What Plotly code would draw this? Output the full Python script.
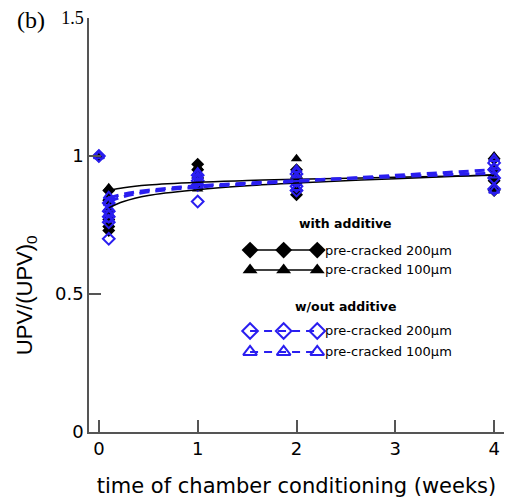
import plotly.graph_objects as go

# Normalised UPV measurements per series (time in weeks, replicate values)
t_bd = [0, 0.1, 0.1, 0.1, 0.1, 0.1, 0.1, 1, 1, 1, 1, 2, 2, 2, 2, 4, 4, 4, 4]
v_bd = [1.0, 0.875, 0.84, 0.80, 0.77, 0.745, 0.73, 0.97, 0.95, 0.92, 0.895,
        0.95, 0.92, 0.875, 0.86, 0.99, 0.95, 0.91, 0.875]

t_bt = [0, 0.1, 0.1, 0.1, 0.1, 0.1, 1, 1, 1, 1, 2, 2, 2, 2, 4, 4, 4, 4]
v_bt = [1.0, 0.885, 0.85, 0.81, 0.775, 0.75, 0.96, 0.93, 0.90, 0.88,
        0.99, 0.935, 0.90, 0.88, 1.0, 0.96, 0.92, 0.885]

t_wd = [0, 0.1, 0.1, 0.1, 0.1, 0.1, 1, 1, 1, 1, 2, 2, 2, 2, 4, 4, 4, 4]
v_wd = [1.0, 0.83, 0.80, 0.78, 0.76, 0.70, 0.93, 0.91, 0.895, 0.835,
        0.935, 0.91, 0.89, 0.875, 0.975, 0.95, 0.92, 0.88]

t_wt = [0, 0.1, 0.1, 0.1, 0.1, 0.1, 1, 1, 1, 1, 2, 2, 2, 2, 4, 4, 4, 4]
v_wt = [1.0, 0.855, 0.83, 0.81, 0.79, 0.77, 0.94, 0.925, 0.905, 0.89,
        0.95, 0.925, 0.905, 0.885, 0.99, 0.96, 0.93, 0.875]

# Trend curves for each series
t_fit = [0.1, 0.25, 0.5, 1, 1.5, 2, 3, 4]
fit_bd = [0.875, 0.885, 0.895, 0.905, 0.911, 0.916, 0.923, 0.93]
fit_bt = [0.812, 0.835, 0.857, 0.878, 0.892, 0.902, 0.918, 0.932]
fit_wd = [0.835, 0.853, 0.870, 0.887, 0.898, 0.908, 0.93, 0.95]
fit_wt = [0.848, 0.862, 0.876, 0.892, 0.902, 0.911, 0.925, 0.938]

# Key: sample positions and labels
key_x = [1.53, 1.87, 2.21]
key_y = [0.659, 0.587, 0.366, 0.290]
key_labels = ["pre-cracked 200\u03bcm", "pre-cracked 100\u03bcm",
              "pre-cracked 200\u03bcm", "pre-cracked 100\u03bcm"]
key_headers = ["with additive", "w/out additive"]
key_header_y = [0.757, 0.453]

x_ticks = [0, 1, 2, 3, 4]
y_ticks = [0, 0.5, 1, 1.5]

BLACK = "#000000"
BLUE = "#2a1ef0"
FONT = "DejaVu Sans"

fig = go.Figure()

# data markers
fig.add_trace(go.Scatter(x=t_bd, y=v_bd, mode="markers",
                         marker=dict(symbol="diamond", size=10, color=BLACK)))
fig.add_trace(go.Scatter(x=t_bt, y=v_bt, mode="markers",
                         marker=dict(symbol="triangle-up", size=10, color=BLACK)))
fig.add_trace(go.Scatter(x=t_wd, y=v_wd, mode="markers",
                         marker=dict(symbol="diamond-open", size=9, color=BLUE,
                                     line=dict(width=2))))
fig.add_trace(go.Scatter(x=t_wt, y=v_wt, mode="markers",
                         marker=dict(symbol="triangle-up-open", size=9, color=BLUE,
                                     line=dict(width=2))))

# trend curves
for fy in (fit_bd, fit_bt):
    fig.add_trace(go.Scatter(x=t_fit, y=fy, mode="lines", line_shape="spline",
                             line=dict(color=BLACK, width=1.5)))
for fy in (fit_wd, fit_wt):
    fig.add_trace(go.Scatter(x=t_fit, y=fy, mode="lines", line_shape="spline",
                             line=dict(color=BLUE, width=3, dash="10px,6px")))

# key samples
key_styles = [
    dict(line=dict(color=BLACK, width=1.5),
         marker=dict(symbol="diamond", size=13, color=BLACK)),
    dict(line=dict(color=BLACK, width=1.5),
         marker=dict(symbol="triangle-up", size=13, color=BLACK)),
    dict(line=dict(color=BLUE, width=2, dash="8px,6px"),
         marker=dict(symbol="diamond-open", size=12, color=BLUE, line=dict(width=2))),
    dict(line=dict(color=BLUE, width=2, dash="8px,6px"),
         marker=dict(symbol="triangle-up-open", size=12, color=BLUE, line=dict(width=2))),
]
for ky, st in zip(key_y, key_styles):
    fig.add_trace(go.Scatter(x=key_x, y=[ky] * len(key_x), mode="lines+markers", **st))
for ky, lab in zip(key_y, key_labels):
    fig.add_annotation(x=key_x[-1] + 0.06, y=ky, text=lab, showarrow=False,
                       xanchor="left", yanchor="middle",
                       font=dict(family=FONT, size=13, color="#000"))
for hy, hd in zip(key_header_y, key_headers):
    fig.add_annotation(x=2.5, y=hy, text="<b>" + hd + "</b>", showarrow=False,
                       xanchor="center", yanchor="middle",
                       font=dict(family=FONT, size=12.5, color="#000"))

# panel label and y-axis title (placed in the left margin)
fig.add_annotation(x=-0.178, y=0.995, xref="paper", yref="paper", text="(b)",
                   showarrow=False, xanchor="left", yanchor="middle",
                   font=dict(family="Liberation Serif", size=24, color="#000"))
fig.add_annotation(x=-0.15, y=0.33, xref="paper", yref="paper",
                   text="UPV/(UPV)<sub>0</sub>", textangle=-90, showarrow=False,
                   xanchor="center", yanchor="middle",
                   font=dict(family="Liberation Sans", size=22, color="#000"))

axis_common = dict(showgrid=False, zeroline=False, showline=True, linecolor="#555",
                   linewidth=1.5, ticks="inside", ticklen=12, tickwidth=1.5,
                   tickcolor="#555")
y_text = ["0", "0.5", "1",
          '<span style="font-family:Liberation Serif">1.5</span>']

fig.update_layout(
    width=507, height=502,
    margin=dict(l=89, r=3, t=18, b=70),
    paper_bgcolor="white", plot_bgcolor="white",
    showlegend=False,
    xaxis=dict(range=[-0.1, 4.1], tickvals=x_ticks, ticktext=[str(v) for v in x_ticks],
               tickfont=dict(family=FONT, size=18, color="#000"),
               title=dict(text="time of chamber conditioning (weeks)", standoff=20,
                          font=dict(family=FONT, size=21, color="#000")),
               **axis_common),
    yaxis=dict(range=[0, 1.5], tickvals=y_ticks, ticktext=y_text,
               tickfont=dict(family=FONT, size=18, color="#000"),
               **axis_common),
)

fig.write_html("out.html")
